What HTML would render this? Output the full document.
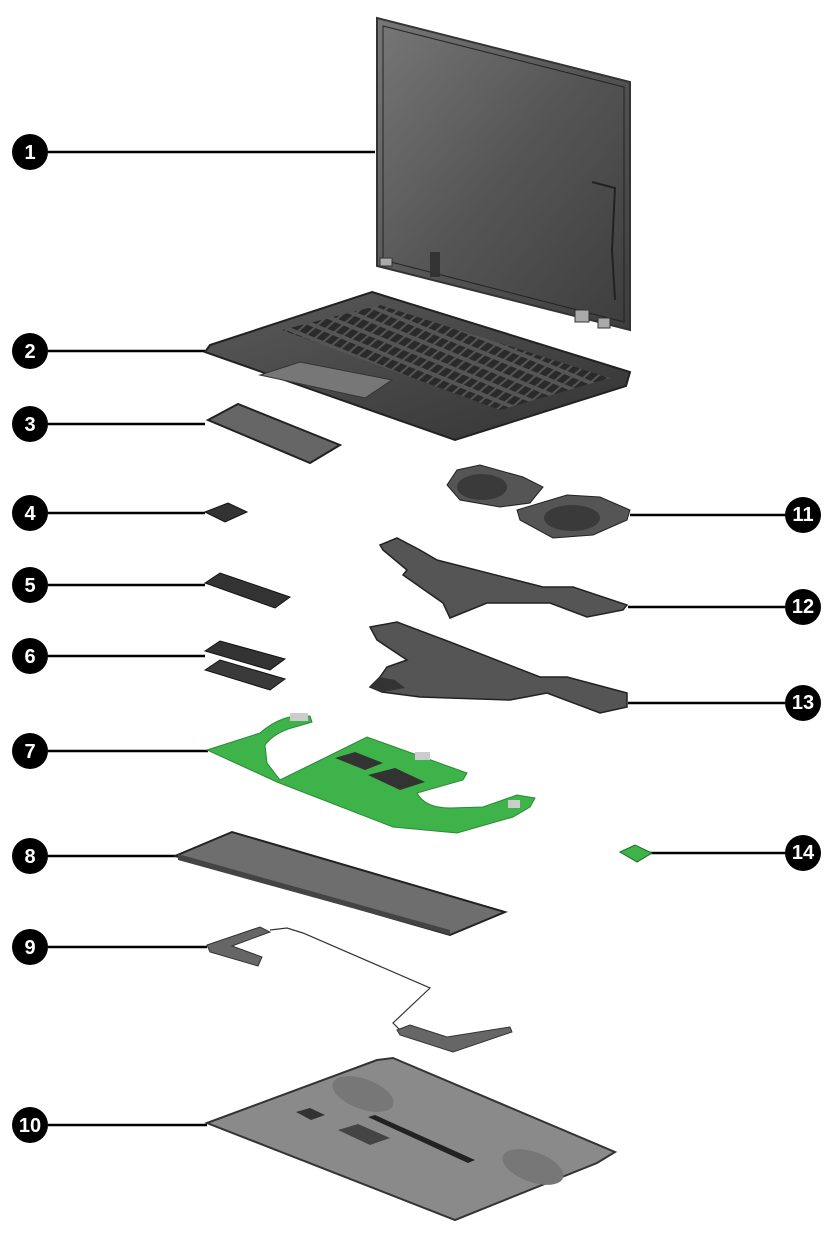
<!DOCTYPE html>
<html><head><meta charset="utf-8"><style>
html,body{margin:0;padding:0;background:#fff}
svg{display:block}
text{font-family:"Liberation Sans",sans-serif;font-weight:bold;fill:#fff;font-size:20px;text-anchor:middle}
</style></head><body>
<svg width="834" height="1251" viewBox="0 0 834 1251" xmlns="http://www.w3.org/2000/svg">
<defs>
<linearGradient id="scr" x1="0" y1="0" x2="1" y2="1"><stop offset="0" stop-color="#777"/><stop offset="0.5" stop-color="#555"/><stop offset="1" stop-color="#3d3d3d"/></linearGradient>
<linearGradient id="deck" x1="0" y1="0" x2="1" y2="1"><stop offset="0" stop-color="#5a5a5a"/><stop offset="1" stop-color="#333"/></linearGradient>
<pattern id="keys" width="12" height="10" patternUnits="userSpaceOnUse" patternTransform="skewX(-40) rotate(17)"><rect width="12" height="10" fill="#555"/><rect x="1" y="1" width="9" height="7" fill="#2a2a2a"/></pattern>
</defs>
<g stroke="#000" stroke-width="2.5">
<line x1="48" y1="152" x2="375" y2="152"/>
<line x1="48" y1="351" x2="205" y2="351"/>
<line x1="48" y1="424" x2="205" y2="424"/>
<line x1="48" y1="513" x2="205" y2="513"/>
<line x1="48" y1="585" x2="205" y2="585"/>
<line x1="48" y1="656" x2="205" y2="656"/>
<line x1="48" y1="751" x2="208" y2="751"/>
<line x1="48" y1="856" x2="180" y2="856"/>
<line x1="48" y1="947" x2="207" y2="947"/>
<line x1="48" y1="1125" x2="207" y2="1125"/>
<line x1="630" y1="515" x2="785" y2="515"/>
<line x1="628" y1="607" x2="785" y2="607"/>
<line x1="628" y1="703" x2="785" y2="703"/>
<line x1="650" y1="853" x2="785" y2="853"/>
</g>
<polygon points="377,18 630,82 630,330 377,266" fill="url(#scr)" stroke="#333" stroke-width="2"/>
<polygon points="383,26 624,87 624,322 383,260" fill="none" stroke="#222" stroke-width="1"/>
<rect x="380" y="258" width="12" height="8" fill="#aaa" stroke="#333"/><rect x="430" y="252" width="10" height="25" fill="#333"/>
<rect x="575" y="310" width="14" height="12" fill="#aaa" stroke="#333"/><rect x="598" y="318" width="12" height="10" fill="#aaa" stroke="#333"/>
<path d="M592,182 L615,188 L612,250 L615,300" stroke="#222" fill="none" stroke-width="2"/>
<polygon points="372,292 630,372 626,386 455,440 205,352 210,345" fill="url(#deck)" stroke="#222" stroke-width="2"/>
<polygon points="380,305 610,378 500,410 282,330" fill="url(#keys)"/>
<polygon points="300,362 392,380 365,398 260,375" fill="#777" stroke="#333"/>
<polygon points="208,420 238,404 340,445 310,463" fill="#666" stroke="#222" stroke-width="2"/>
<polygon points="205,512 228,503 247,512 225,522" fill="#333" stroke="#111"/>
<polygon points="205,583 220,573 290,597 275,608" fill="#333" stroke="#111"/>
<polygon points="205,651 220,641 285,659 270,670" fill="#333" stroke="#111"/>
<polygon points="205,670 220,660 285,679 270,690" fill="#3a3a3a" stroke="#111"/>
<path d="M207,750 L260,733 Q275,720 290,717 L310,716 L312,722 L295,727 Q275,732 265,745 L267,763 L280,780 L367,737 L467,773 L463,780 L417,793 Q425,808 450,808 L483,807 L517,795 L535,798 L530,807 L513,817 L457,833 L393,827 L277,782 Z" fill="#3db34a" stroke="#2a8a35" stroke-width="1"/>
<rect x="290" y="713" width="18" height="8" fill="#ccc"/>
<polygon points="335,758 355,752 383,763 365,770" fill="#333"/>
<polygon points="368,775 395,768 425,782 400,790" fill="#333"/>
<rect x="415" y="752" width="15" height="8" fill="#ccc"/><rect x="508" y="800" width="12" height="8" fill="#ccc"/>
<polygon points="175,856 232,832 505,912 450,935" fill="#6e6e6e" stroke="#222" stroke-width="2"/>
<polygon points="178,860 450,935 450,930 178,854" fill="#444"/>
<polygon points="207,945 260,927 270,932 232,946 262,957 258,966 210,952" fill="#666" stroke="#333"/>
<path d="M270,930 L287,928 L303,933 L430,988 L393,1023 L400,1030" fill="none" stroke="#333" stroke-width="1.2"/>
<polygon points="397,1030 410,1025 447,1037 510,1027 512,1032 453,1052 400,1035" fill="#666" stroke="#333"/>
<polygon points="207,1123 377,1060 393,1058 615,1152 597,1163 455,1220" fill="#8a8a8a" stroke="#333" stroke-width="2"/>
<ellipse cx="363" cy="1094" rx="32" ry="15" fill="#777" transform="rotate(20 363 1094)"/>
<ellipse cx="533" cy="1167" rx="32" ry="15" fill="#777" transform="rotate(20 533 1167)"/>
<polygon points="368,1117 375,1115 475,1160 468,1163" fill="#222"/>
<polygon points="338,1130 358,1124 390,1138 370,1145" fill="#444"/>
<polygon points="296,1112 310,1108 325,1115 311,1120" fill="#333"/>
<polygon points="447,485 457,470 480,465 523,477 543,487 530,503 500,507 460,500" fill="#555" stroke="#222"/>
<ellipse cx="482" cy="487" rx="25" ry="13" fill="#3a3a3a"/>
<polygon points="517,510 567,495 600,497 630,510 627,520 593,535 553,538 520,520" fill="#555" stroke="#222"/>
<ellipse cx="572" cy="518" rx="28" ry="13" fill="#3a3a3a"/>
<polygon points="380,545 397,538 420,550 437,560 543,587 573,587 627,605 623,610 587,617 550,603 487,603 450,618 443,603 403,575 407,570 383,550" fill="#555" stroke="#222" stroke-width="1.5"/>
<polygon points="370,627 397,622 450,642 540,677 567,677 627,693 627,707 600,713 547,693 510,700 420,697 382,692 370,687 380,677 387,667 407,660 377,640" fill="#555" stroke="#222" stroke-width="1.5"/>
<polygon points="370,687 382,692 405,688 395,680 380,677" fill="#333"/>
<polygon points="620,852 635,845 652,853 637,862" fill="#3db34a" stroke="#1d6b25"/>
<g fill="#000">
<circle cx="30" cy="152" r="18"/><circle cx="30" cy="351" r="18"/><circle cx="30" cy="424" r="18"/>
<circle cx="30" cy="513" r="18"/><circle cx="30" cy="585" r="18"/><circle cx="30" cy="656" r="18"/>
<circle cx="30" cy="751" r="18"/><circle cx="30" cy="856" r="18"/><circle cx="30" cy="947" r="18"/>
<circle cx="30" cy="1125" r="18"/><circle cx="803" cy="515" r="18"/><circle cx="803" cy="607" r="18"/>
<circle cx="803" cy="703" r="18"/><circle cx="803" cy="853" r="18"/>
</g>
<text x="30" y="159">1</text><text x="30" y="358">2</text><text x="30" y="431">3</text>
<text x="30" y="520">4</text><text x="30" y="592">5</text><text x="30" y="663">6</text>
<text x="30" y="758">7</text><text x="30" y="863">8</text><text x="30" y="954">9</text>
<text x="30" y="1132" font-size="17">10</text><text x="803" y="521" font-size="17">11</text>
<text x="803" y="613" font-size="17">12</text><text x="803" y="709" font-size="17">13</text>
<text x="803" y="859" font-size="17">14</text>
</svg>
</body></html>
